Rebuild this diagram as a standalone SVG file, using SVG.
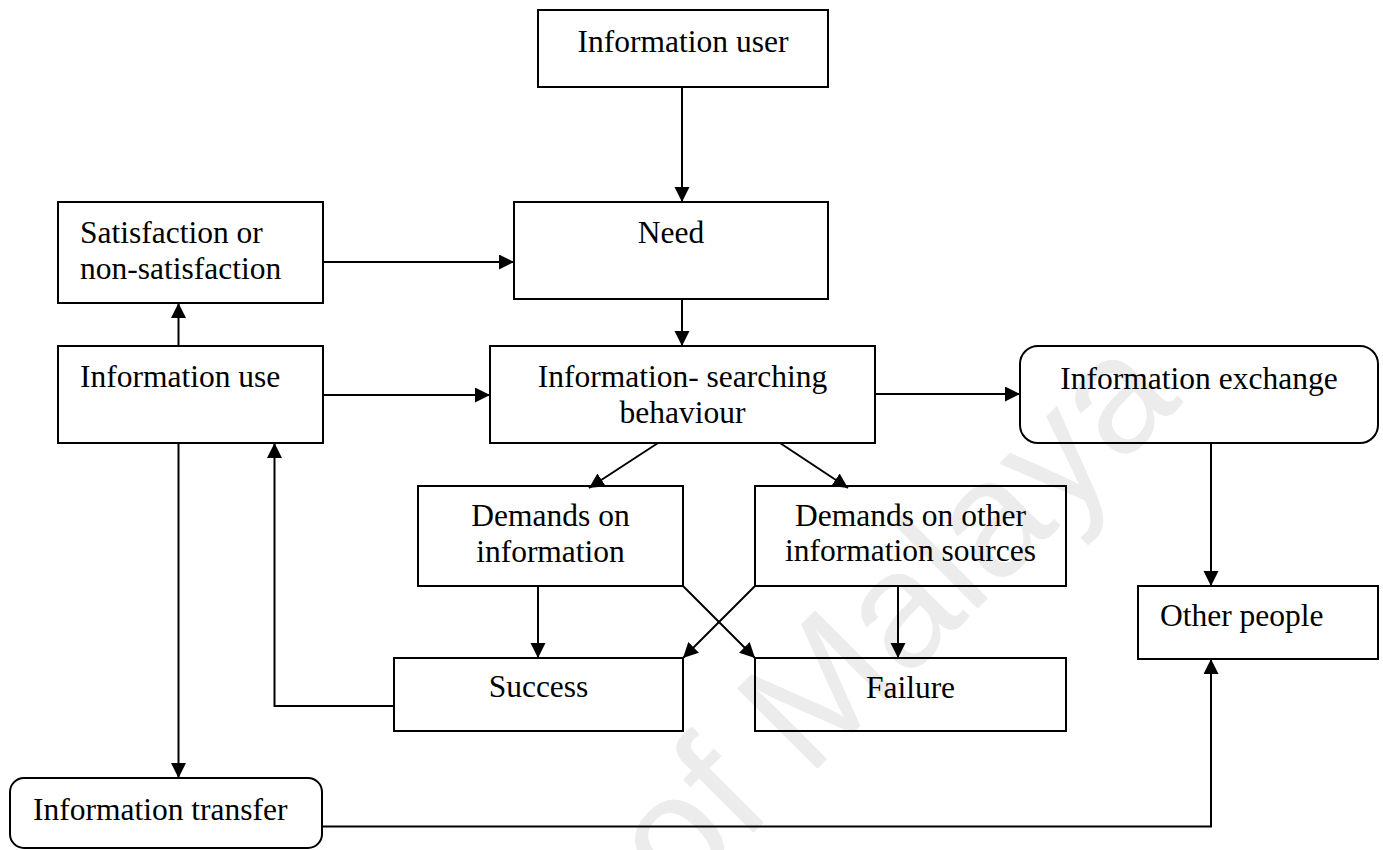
<svg xmlns="http://www.w3.org/2000/svg" width="1383" height="850" viewBox="0 0 1383 850">
<style>
.box{fill:none;stroke:#000;stroke-width:2}
.t{font-family:"Liberation Serif","Times New Roman",serif;font-size:31.5px;fill:#000}
.c{text-anchor:middle}
.ln{fill:none;stroke:#000;stroke-width:2}
.wm{font-family:"Liberation Sans",Arial,sans-serif;font-size:165px;fill:#ececec}
</style>
<defs>
<marker id="ah" markerUnits="userSpaceOnUse" markerWidth="16" markerHeight="16" refX="15" refY="7.5" orient="auto">
<path d="M0,0 L15,7.5 L0,15 z" fill="#000"/>
</marker>
</defs>
<rect width="1383" height="850" fill="#fff"/>
<text class="wm" transform="translate(678,908) rotate(-45)">of Malaya</text>
<g id="connectors">
<line class="ln" x1="682" y1="87" x2="682" y2="202" marker-end="url(#ah)"/>
<line class="ln" x1="323" y1="262" x2="514" y2="262" marker-end="url(#ah)"/>
<line class="ln" x1="682" y1="299" x2="682" y2="346" marker-end="url(#ah)"/>
<line class="ln" x1="178.5" y1="346" x2="178.5" y2="303" marker-end="url(#ah)"/>
<line class="ln" x1="323" y1="395" x2="490" y2="395" marker-end="url(#ah)"/>
<line class="ln" x1="875" y1="394" x2="1020" y2="394" marker-end="url(#ah)"/>
<line class="ln" x1="658" y1="443" x2="589" y2="488" marker-end="url(#ah)"/>
<line class="ln" x1="780" y1="443" x2="848" y2="488" marker-end="url(#ah)"/>
<line class="ln" x1="1211" y1="443" x2="1211" y2="586" marker-end="url(#ah)"/>
<line class="ln" x1="538" y1="586" x2="538" y2="658" marker-end="url(#ah)"/>
<line class="ln" x1="683" y1="586" x2="755" y2="658" marker-end="url(#ah)"/>
<line class="ln" x1="755" y1="586" x2="683" y2="658" marker-end="url(#ah)"/>
<line class="ln" x1="898" y1="586" x2="898" y2="658" marker-end="url(#ah)"/>
<polyline class="ln" points="394,706 274.5,706 274.5,443" marker-end="url(#ah)"/>
<line class="ln" x1="178.5" y1="443" x2="178.5" y2="778" marker-end="url(#ah)"/>
<polyline class="ln" points="322,826.5 1211,826.5 1211,659" marker-end="url(#ah)"/>
</g>
<g id="info-user"><rect class="box" x="538" y="10" width="290" height="77"/><text class="t c" x="683" y="52">Information user</text></g>
<g id="need"><rect class="box" x="514" y="202" width="314" height="97"/><text class="t c" x="671" y="243">Need</text></g>
<g id="satisfaction"><rect class="box" x="58" y="202" width="265" height="101"/><text class="t" x="80" y="243">Satisfaction or</text><text class="t" x="80" y="279">non-satisfaction</text></g>
<g id="info-use"><rect class="box" x="58" y="346" width="265" height="97"/><text class="t" x="80" y="387">Information use</text></g>
<g id="info-search"><rect class="box" x="490" y="346" width="385" height="97"/><text class="t c" x="682.5" y="387">Information- searching</text><text class="t c" x="682.5" y="423">behaviour</text></g>
<g id="info-exchange"><rect class="box" x="1020" y="346" width="358" height="97" rx="18"/><text class="t c" x="1199" y="389">Information exchange</text></g>
<g id="demands-info"><rect class="box" x="418" y="486" width="265" height="100"/><text class="t c" x="550.5" y="526">Demands on</text><text class="t c" x="550.5" y="562">information</text></g>
<g id="demands-other"><rect class="box" x="755" y="486" width="311" height="100"/><text class="t c" x="910.5" y="526">Demands on other</text><text class="t c" x="910.5" y="561">information sources</text></g>
<g id="other-people"><rect class="box" x="1138" y="586" width="240" height="73"/><text class="t" x="1160" y="626">Other people</text></g>
<g id="success"><rect class="box" x="394" y="658" width="289" height="73"/><text class="t c" x="538.5" y="697">Success</text></g>
<g id="failure"><rect class="box" x="755" y="658" width="311" height="73"/><text class="t c" x="910.5" y="698">Failure</text></g>
<g id="info-transfer"><rect class="box" x="10" y="778" width="312" height="70" rx="14"/><text class="t" x="33" y="820">Information transfer</text></g>
</svg>
